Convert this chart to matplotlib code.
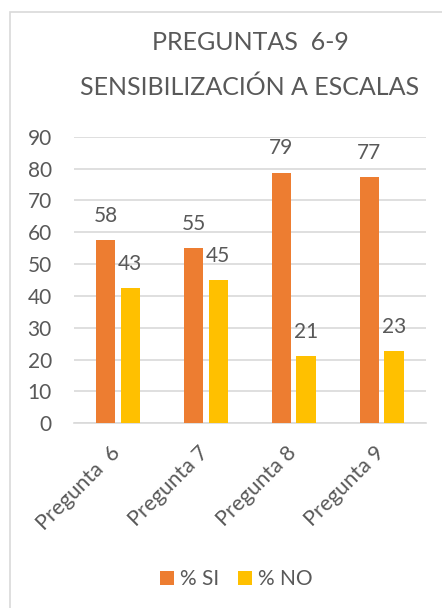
import math
import matplotlib
matplotlib.use("Agg")
import matplotlib.pyplot as plt
import matplotlib.transforms as mtransforms
from matplotlib.patches import Rectangle
import numpy as np

categories = ["Pregunta  6", "Pregunta 7", "Pregunta 8", "Pregunta 9"]
si_values = [57.5, 55.0, 78.75, 77.4]
no_values = [42.5, 45.0, 21.25, 22.6]
series_names = ["% SI", "% NO"]
title_lines = ["PREGUNTAS  6-9", "SENSIBILIZACIÓN A ESCALAS"]
yticks = list(range(0, 91, 10))

ORANGE = "#ED7D31"
YELLOW = "#FFC000"
TEXT = "#595959"
GRID = "#D9D9D9"

plt.rcParams['font.family'] = ['Lato', 'DejaVu Sans']

W, H = 442, 608
fig = plt.figure(figsize=(W / 100, H / 100), dpi=100)

# chart border (only top/left visible)
fig.patches.append(Rectangle((10 / W, -0.1), 1.2, 1 - 12 / H + 0.1,
                             transform=fig.transFigure, fill=False,
                             edgecolor=GRID, linewidth=1.2))

ax = fig.add_axes([74 / W, 184.7 / H, (425.7 - 74) / W, (423.3 - 136.7) / H])
x = np.arange(len(categories))
bw = 0.222
off = 0.141
b1 = ax.bar(x - off, si_values, bw, color=ORANGE, label=series_names[0], zorder=3)
b2 = ax.bar(x + off, no_values, bw, color=YELLOW, label=series_names[1], zorder=3)

def fmt(v):
    return str(int(math.floor(v + 0.5)))

for bars, vals in ((b1, si_values), (b2, no_values)):
    for rect, v in zip(bars, vals):
        ax.annotate(fmt(v), (rect.get_x() + rect.get_width() / 2, v),
                    xytext=(0, 13), textcoords="offset points",
                    ha="center", va="baseline", fontsize=15, color=TEXT)

ax.set_xlim(-0.5, len(categories) - 0.5)
ax.set_ylim(0, 90)
ax.set_yticks(yticks)
ax.yaxis.grid(True, color=GRID, linewidth=1.2, zorder=0)
ax.set_axisbelow(True)
for s in ["top", "right", "left"]:
    ax.spines[s].set_visible(False)
ax.spines["bottom"].set_color(GRID)
ax.spines["bottom"].set_linewidth(1.2)
ax.tick_params(axis="y", length=0, pad=16, labelsize=15, labelcolor=TEXT)
ax.tick_params(axis="x", length=0, pad=8, labelsize=15.5, labelcolor=TEXT)
ax.set_xticks(x)
ax.set_xticklabels(categories, rotation=45, ha="right", va="top",
                   rotation_mode="anchor")
shift = mtransforms.ScaledTranslation(-8 / 100, -8 / 100, fig.dpi_scale_trans)
for lbl in ax.get_xticklabels():
    lbl.set_transform(lbl.get_transform() + shift)

fig.text(250 / W, 1 - 50 / H, title_lines[0], ha="center", va="baseline",
         fontsize=18, color=TEXT)
fig.text(250 / W, 1 - 95 / H, title_lines[1], ha="center", va="baseline",
         fontsize=18, color=TEXT)

fig.legend(handles=[b1, b2], labels=series_names, loc="center",
           bbox_to_anchor=(236.5 / W, 29 / H), ncol=2, frameon=False,
           fontsize=15, labelcolor=TEXT, handlelength=0.67, handleheight=0.67,
           handletextpad=0.3, columnspacing=0.9)

fig.savefig("out.png", dpi=100)
